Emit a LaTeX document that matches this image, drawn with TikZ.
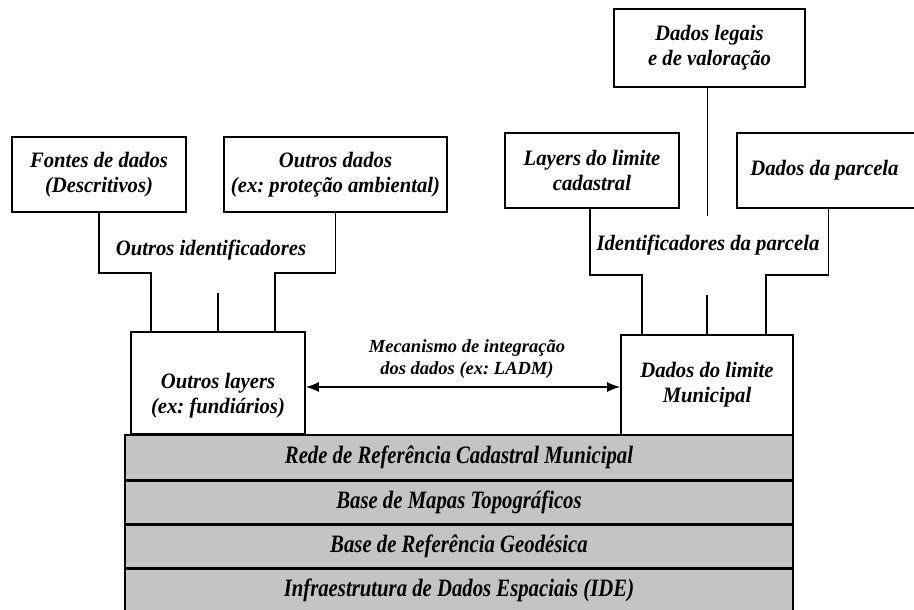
\documentclass[tikz,border=0pt]{standalone}
\usepackage{fontspec}
\setmainfont{Liberation Serif}
\newfontfamily\condfont{Liberation Serif}[FakeStretch=0.83]
\newfontfamily\boxfont{Liberation Serif}[FakeStretch=0.94]
\usetikzlibrary{calc,arrows.meta}
\definecolor{layergray}{HTML}{C4C4C4}
\frenchspacing
\begin{document}
\begin{tikzpicture}[x=1pt,y=-1pt,
  box/.style={draw,line width=1.6pt,fill=white,align=center,inner sep=0pt,
    font=\fontsize{22}{25}\boxfont\bfseries\itshape},
  lbl/.style={align=center,inner sep=0pt,font=\fontsize{22}{25}\boxfont\bfseries\itshape},
  conn/.style={line width=1.6pt},
  layer/.style={draw,line width=1.4pt,fill=layergray,minimum width=668pt,inner sep=0pt,
    font=\fontsize{25}{28}\condfont\bfseries\itshape}]
\useasboundingbox (0,0) rectangle (914,610);
% gray layers
\node[layer,minimum height=45pt] (rede) at (459,457.5) {Rede de Referência Cadastral Municipal};
\node[layer,minimum height=44pt] (mapas) at (459,502) {Base de Mapas Topográficos};
\node[layer,minimum height=44pt] (geo) at (459,546) {Base de Referência Geodésica};
\node[layer,minimum height=44pt] (ide) at (459,590) {Infraestrutura de Dados Espaciais (IDE)};
\draw[line width=2.6pt] (rede.south west) -- (rede.south east);
\draw[line width=2.6pt] (mapas.south west) -- (mapas.south east);
\draw[line width=2.6pt] (geo.south west) -- (geo.south east);
% boxes
\node[box,minimum width=174pt,minimum height=75pt] (fontes) at (99,174.5) {Fontes de dados\\(Descritivos)};
\node[box,minimum width=223pt,minimum height=75pt] (odados) at (335.5,174.5) {Outros dados\\(ex: proteção ambiental)};
\node[box,minimum width=174pt,minimum height=102pt] (olayers) at (218,383) {};
\node[lbl] at (218,396) {Outros layers\\(ex: fundiários)};
\node[box,minimum width=191pt,minimum height=78pt] (dlegais) at (709.5,48) {Dados legais\\e de valoração};
\node[box,minimum width=174pt,minimum height=75pt] (llimite) at (592,170.5) {Layers do limite\\cadastral};
\node[box,minimum width=179pt,minimum height=75pt] (dparcela) at (826.5,170.5) {\hspace*{-4pt}Dados da parcela};
\node[box,minimum width=172pt,minimum height=100pt] (dlimite) at (707,385) {Dados do limite\\Municipal};
% connectors left
\draw[conn] (fontes.south) -- ++(0,60) -| ([xshift=21pt]olayers.north west);
\draw[conn] (odados.south) -- ++(0,60) -| ([xshift=-31pt]olayers.north east);
\draw[conn] (olayers.north) -- ++(0,-38);
\node[lbl] (oid) at (211,250) {Outros identificadores};
% connectors right
\draw[conn] ([xshift=-2pt]llimite.south) -- ++(0,66) -| ([xshift=22pt]dlimite.north west);
\draw[conn] ([xshift=2pt]dparcela.south) -- ++(0,66) -| ([xshift=-28pt]dlimite.north east);
\draw[conn] ([xshift=-2pt]dlegais.south) -- ++(0,128);
\draw[conn] (dlimite.north) -- ++(0,-39);
\node[lbl] (pid) at (708,245) {Identificadores da parcela};
% integration arrow
\draw[line width=1.6pt,{Latex[length=13pt,width=10pt]}-{Latex[length=13pt,width=10pt]}]
  ($(olayers.east)+(0,4)$) -- ($(dlimite.west)+(0,2)$);
\node[align=center,inner sep=0pt,font=\fontsize{18.5}{22}\selectfont\bfseries\itshape] (mec) at (467,359)
  {Mecanismo de integração\\dos dados (ex: LADM)};
\end{tikzpicture}
\end{document}
